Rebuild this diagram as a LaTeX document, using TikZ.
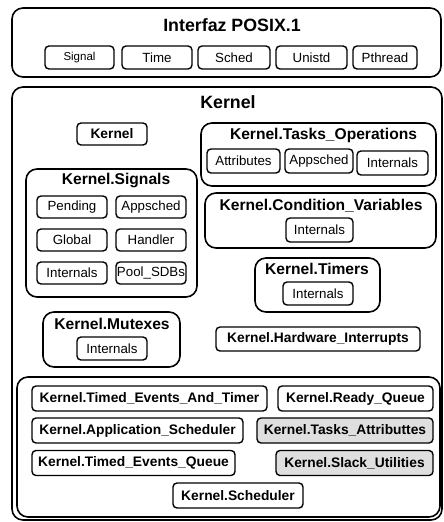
\documentclass[tikz,border=0pt]{standalone}
\usepackage{fontspec}
\setmainfont{Liberation Sans}
\begin{document}
\begin{tikzpicture}[
    x=1pt, y=-1pt,
    grp/.style={draw, line width=1.6pt, rounded corners=11pt, inner sep=0pt},
    mod/.style={draw, line width=1.4pt, rounded corners=4pt, inner sep=0pt,
        font=\bfseries\fontsize{13.8}{15}\selectfont},
    sub/.style={draw, line width=1.4pt, rounded corners=4pt, inner sep=0pt,
        font=\fontsize{13.3}{15}\selectfont},
    shaded/.style={mod, fill=gray!25},
    ttl/.style={inner sep=0pt, font=\bfseries\fontsize{15.6}{17}\selectfont},
    big/.style={inner sep=0pt, font=\bfseries\fontsize{17.8}{20}\selectfont}
    ]
    \useasboundingbox (0,0) rectangle (444,522);

    \node[grp, minimum width=429pt, minimum height=69pt] (posix) at (226.5,42.5) {};
    \node[big] (posixT) at (232,25) {Interfaz POSIX.1};
    \node[sub, minimum width=69pt, minimum height=23pt, font=\fontsize{11.5}{13}\selectfont] (signal) at (79.5,57.5) {Signal};
    \node[sub, minimum width=70pt, minimum height=23pt] (time) at (157,57.5) {Time};
    \node[sub, minimum width=72pt, minimum height=23pt] (sched) at (234,57.5) {Sched};
    \node[sub, minimum width=71pt, minimum height=23pt] (unistd) at (311.5,57.5) {Unistd};
    \node[sub, minimum width=64pt, minimum height=23pt] (pthread) at (385,57.5) {Pthread};

    \node[grp, minimum width=430pt, minimum height=433pt] (kernelGrp) at (227,303.5) {};
    \node[big] (kernelT) at (228,102) {Kernel};
    \node[mod, minimum width=70pt, minimum height=22pt] (kernel) at (112,134) {Kernel};

    \node[grp, minimum width=235pt, minimum height=63pt] (tasksOps) at (318.5,154.5) {};
    \node[ttl] (tasksOpsT) at (323.5,135) {Kernel.Tasks\_Operations};
    \node[sub, minimum width=73pt, minimum height=24pt] (attributes) at (243.5,161) {Attributes};
    \node[sub, minimum width=68pt, minimum height=24pt] (appschedT) at (319,161) {Appsched};
    \node[sub, minimum width=71pt, minimum height=24pt] (internalsT) at (392.5,163) {Internals};

    \node[grp, minimum width=231pt, minimum height=55pt] (condVars) at (320.5,220.5) {};
    \node[ttl] (condVarsT) at (321,206) {Kernel.Condition\_Variables};
    \node[sub, minimum width=67pt, minimum height=24pt] (internalsC) at (319.5,230) {Internals};

    \node[grp, minimum width=171pt, minimum height=128pt] (signals) at (111.5,233) {};
    \node[ttl] (signalsT) at (116,180) {Kernel.Signals};
    \node[sub, minimum width=70pt, minimum height=22pt] (pending) at (72,207) {Pending};
    \node[sub, minimum width=70pt, minimum height=22pt] (appschedS) at (151,207) {Appsched};
    \node[sub, minimum width=70pt, minimum height=22pt] (global) at (72,240) {Global};
    \node[sub, minimum width=70pt, minimum height=22pt] (handler) at (151,240) {Handler};
    \node[sub, minimum width=70pt, minimum height=22pt] (internalsS) at (72,273) {Internals};
    \node[sub, minimum width=70pt, minimum height=22pt] (poolSDBs) at (151,273) {Pool\_SDBs};

    \node[grp, minimum width=125pt, minimum height=54pt] (timers) at (317.5,285) {};
    \node[ttl] (timersT) at (317,269) {Kernel.Timers};
    \node[sub, minimum width=70pt, minimum height=23pt] (internalsTi) at (318,293.5) {Internals};

    \node[grp, minimum width=137pt, minimum height=55pt] (mutexes) at (111.5,339.5) {};
    \node[ttl] (mutexesT) at (112,324) {Kernel.Mutexes};
    \node[sub, minimum width=70pt, minimum height=23pt] (internalsM) at (112,348.5) {Internals};

    \node[mod, minimum width=204pt, minimum height=24pt] (hwInt) at (318,339) {Kernel.Hardware\_Interrupts};

    \node[grp, minimum width=423pt, minimum height=140pt] (core) at (228.5,447) {};
    \node[mod, minimum width=235pt, minimum height=25pt] (timedEvTimer) at (149.5,398.5) {Kernel.Timed\_Events\_And\_Timer};
    \node[mod, minimum width=155pt, minimum height=25pt] (readyQueue) at (355.5,398.5) {Kernel.Ready\_Queue};
    \node[mod, minimum width=211pt, minimum height=25pt] (appScheduler) at (137.5,430.5) {Kernel.Application\_Scheduler};
    \node[shaded, minimum width=176pt, minimum height=25pt] (tasksAttr) at (345,430.5) {Kernel.Tasks\_Attributtes};
    \node[mod, minimum width=203pt, minimum height=25pt] (timedEvQueue) at (133.5,463) {Kernel.Timed\_Events\_Queue};
    \node[shaded, minimum width=157pt, minimum height=25pt] (slackUtil) at (354.5,463) {Kernel.Slack\_Utilities};
    \node[mod, minimum width=130pt, minimum height=25pt] (scheduler) at (238,495.5) {Kernel.Scheduler};
\end{tikzpicture}
\end{document}
